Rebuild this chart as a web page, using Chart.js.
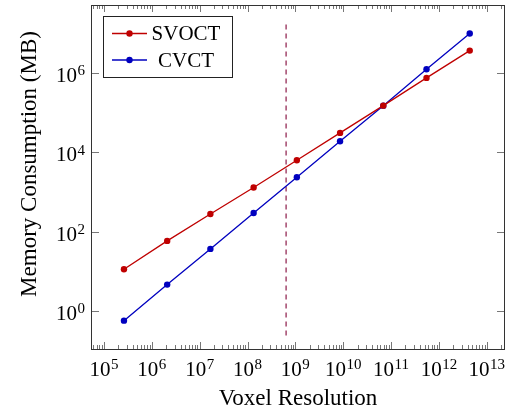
<!DOCTYPE html>
<html><head><meta charset="utf-8">
<script src="https://cdn.jsdelivr.net/npm/chart.js@4/dist/chart.umd.min.js"></script>
<style>html,body{margin:0;padding:0;background:#fff;} #wrap{width:509px;height:414px;position:relative;}</style>
</head><body><div id="wrap"><canvas id="c" width="509" height="414"></canvas></div>
<script>
// ---- data ----
const voxelResolution = [262144, 2097152, 16777216, 134217728, 1073741824, 8589934592, 68719476736, 549755813888, 4398046511104];
const svoctMemory = [11.2, 58, 277, 1280, 6250, 30500, 148000, 740000, 3600000];
const cvctMemory = [0.57, 4.6, 36.5, 294, 2330, 18800, 148000, 1220000, 9700000];
const seriesLabels = ['SVOCT', 'CVCT'];
const dashedX = 6.4e8;
const dashedYRange = [0.24, 1.94e7];
const xTickValues = [1e5, 1e6, 1e7, 1e8, 1e9, 1e10, 1e11, 1e12, 1e13];
const xTickExponents = ['5', '6', '7', '8', '9', '10', '11', '12', '13'];
const yTickValues = [1, 1e2, 1e4, 1e6];
const yTickExponents = ['0', '2', '4', '6'];
const xTitle = 'Voxel Resolution';
const yTitle = 'Memory Consumption (MB)';
const xRange = [5.37e4, 2.4e13];
const yRange = [0.110, 5.07e7];

const FONT = '"Liberation Serif"';
const RED = '#bf0000', BLUE = '#0000bf', DASH = '#8c1a48';

function drawPow(ctx, base, exp, x, baseY, expY, align) {
  ctx.font = '21px ' + FONT;
  const wb = ctx.measureText(base).width;
  ctx.font = '15px ' + FONT;
  const we = ctx.measureText(exp).width;
  const total = wb + we + 0.5;
  let left = align === 'center' ? x - total / 2 : x - total;
  ctx.textAlign = 'left';
  ctx.textBaseline = 'alphabetic';
  ctx.fillStyle = '#000';
  ctx.font = '21px ' + FONT;
  ctx.fillText(base, left, baseY);
  ctx.font = '15px ' + FONT;
  ctx.fillText(exp, left + wb + 0.5, expY);
}

const framePlugin = {
  id: 'frame',
  afterDatasetsDraw(chart) {
    const ctx = chart.ctx, a = chart.chartArea;
    const xs = chart.scales.x, ys = chart.scales.y;
    ctx.save();
    // ticks
    ctx.strokeStyle = '#777';
    ctx.lineWidth = 1;
    ctx.beginPath();
    for (let d = 4; d <= 13; d++) {
      for (let m = 1; m <= 9; m++) {
        const v = m * Math.pow(10, d);
        if (v < xRange[0] || v > xRange[1]) continue;
        const px = Math.round(xs.getPixelForValue(v)) + 0.5;
        const len = m === 1 ? 7 : 4;
        ctx.moveTo(px, a.bottom); ctx.lineTo(px, a.bottom - len);
        ctx.moveTo(px, a.top); ctx.lineTo(px, a.top + len);
      }
    }
    yTickValues.forEach(v => {
      const py = Math.round(ys.getPixelForValue(v)) + 0.5;
      ctx.moveTo(a.left, py); ctx.lineTo(a.left + 8, py);
      ctx.moveTo(a.right, py); ctx.lineTo(a.right - 8, py);
    });
    ctx.stroke();
    // frame
    ctx.strokeStyle = '#333';
    ctx.lineWidth = 1;
    ctx.strokeRect(Math.round(a.left) + 0.5, Math.round(a.top) + 0.5, Math.round(a.right - a.left) - 1, Math.round(a.bottom - a.top));
    // tick labels
    xTickValues.forEach((v, i) => {
      const px = xs.getPixelForValue(v);
      drawPow(ctx, '10', xTickExponents[i], px, a.bottom + 27, a.bottom + 20, 'center');
    });
    yTickValues.forEach((v, i) => {
      const py = ys.getPixelForValue(v);
      drawPow(ctx, '10', yTickExponents[i], a.left - 6, py + 9, py + 2.5, 'right');
    });
    // y title
    ctx.save();
    ctx.translate(36, 164);
    ctx.rotate(-Math.PI / 2);
    ctx.font = '23px ' + FONT;
    ctx.textAlign = 'center';
    ctx.textBaseline = 'alphabetic';
    ctx.fillStyle = '#000';
    ctx.fillText(yTitle, 0, 0);
    ctx.restore();
    // legend
    const lx = 103.5, ly = 16.5, lw = 129, lh = 61;
    ctx.fillStyle = '#fff';
    ctx.fillRect(lx, ly, lw, lh);
    ctx.strokeStyle = '#222';
    ctx.lineWidth = 1;
    ctx.strokeRect(lx, ly, lw, lh);
    const rows = [33.5, 60];
    [0, 1].forEach(i => {
      const ds = chart.data.datasets[i];
      const y = rows[i];
      ctx.strokeStyle = ds.borderColor;
      ctx.lineWidth = 1.3;
      ctx.beginPath(); ctx.moveTo(112, y); ctx.lineTo(147, y); ctx.stroke();
      ctx.fillStyle = ds.borderColor;
      ctx.beginPath(); ctx.arc(129.5, y, 3.2, 0, Math.PI * 2); ctx.fill();
      ctx.fillStyle = '#000';
      ctx.font = '21px ' + FONT;
      ctx.textAlign = 'center';
      ctx.textBaseline = 'middle';
      ctx.fillText(ds.label, 186, y + 1);
    });
    ctx.restore();
  }
};

new Chart(document.getElementById('c'), {
  type: 'line',
  data: {
    datasets: [
      {
        label: seriesLabels[0],
        data: voxelResolution.map((x, i) => ({ x, y: svoctMemory[i] })),
        borderColor: RED, backgroundColor: RED,
        borderWidth: 1.3, pointRadius: 3.2, pointBorderWidth: 0, pointBackgroundColor: RED
      },
      {
        label: seriesLabels[1],
        data: voxelResolution.map((x, i) => ({ x, y: cvctMemory[i] })),
        borderColor: BLUE, backgroundColor: BLUE,
        borderWidth: 1.3, pointRadius: 3.2, pointBorderWidth: 0, pointBackgroundColor: BLUE
      },
      {
        label: 'threshold',
        data: [{ x: dashedX, y: dashedYRange[0] }, { x: dashedX, y: dashedYRange[1] }],
        borderColor: DASH, borderWidth: 1.2, borderDash: [5, 4], pointRadius: 0
      }
    ]
  },
  options: {
    responsive: false,
    devicePixelRatio: 1,
    animation: false,
    layout: { padding: { top: 5, right: 4, left: 0, bottom: 0 } },
    plugins: { legend: { display: false }, tooltip: { enabled: false } },
    scales: {
      x: {
        type: 'logarithmic',
        min: xRange[0], max: xRange[1],
        afterBuildTicks: s => { s.ticks = xTickValues.map(v => ({ value: v })); },
        afterFit: s => { s.height = 65; s.paddingLeft = 0; s.paddingRight = 0; },
        ticks: { display: false },
        grid: { display: false, drawTicks: false },
        border: { display: false },
        title: { display: true, text: xTitle, color: '#000', font: { family: 'Liberation Serif', size: 23 }, padding: { top: 0, bottom: 1 } }
      },
      y: {
        type: 'logarithmic',
        min: yRange[0], max: yRange[1],
        afterBuildTicks: s => { s.ticks = yTickValues.map(v => ({ value: v })); },
        afterFit: s => { s.width = 91; s.paddingTop = 0; s.paddingBottom = 0; },
        ticks: { display: false },
        grid: { display: false, drawTicks: false },
        border: { display: false },
        title: { display: false }
      }
    }
  },
  plugins: [framePlugin]
});
</script>
</body></html>
